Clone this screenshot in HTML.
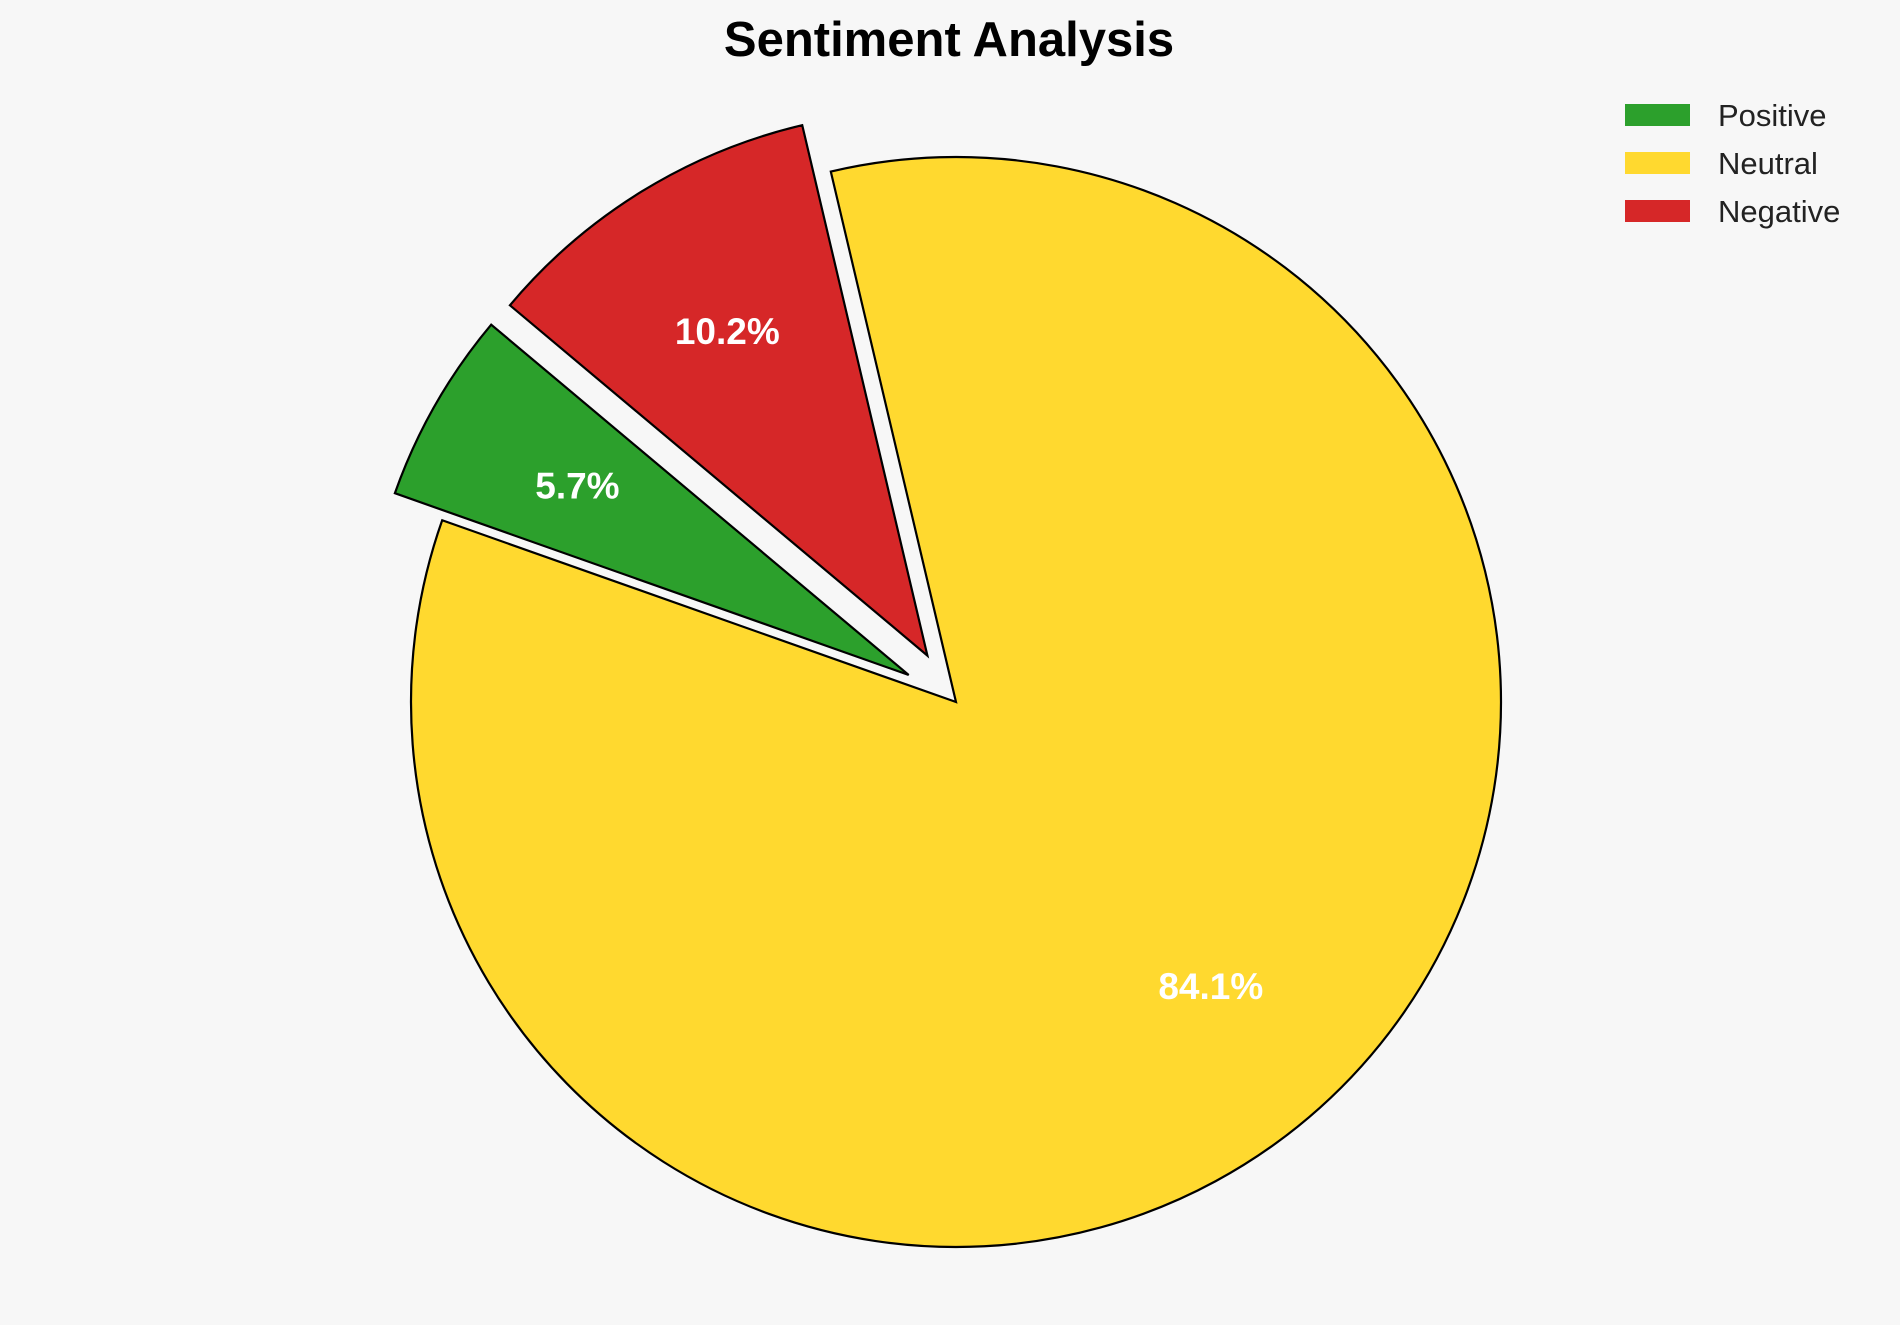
<!DOCTYPE html>
<html><head><meta charset="utf-8">
<style>
html,body{margin:0;padding:0;background:#f7f7f7;}
svg{display:block;font-family:"Liberation Sans",Arial,sans-serif;}
</style></head>
<body>
<svg id="chart" width="1900" height="1325" viewBox="0 0 1900 1325">
<rect width="1900" height="1325" fill="#f7f7f7"/>
<text x="949" y="56" text-anchor="middle" font-size="49" font-weight="bold" fill="#000">Sentiment Analysis</text>
<g id="slices"></g>
<g id="legend"></g>
</svg>
<script>
const categories = ["Positive", "Neutral", "Negative"];
const values = [5.7, 84.1, 10.2];
const explode = [0.1, 0, 0.1];
const colors = ["#2ca02c", "#ffd92f", "#d62728"];
const startAngle = 140;

const cx = 956, cy = 702, R = 545;
const NS = "http://www.w3.org/2000/svg";
const gS = document.getElementById('slices');
const gL = document.getElementById('legend');
const total = values.reduce((a,b)=>a+b,0);
let a0 = startAngle;
function pt(x,y,ang,r){const t=ang*Math.PI/180;return [x+r*Math.cos(t), y-r*Math.sin(t)];}
values.forEach((v,i)=>{
  const sweep = v/total*360;
  const a1 = a0 + sweep;
  const mid = (a0+a1)/2;
  const [ox,oy] = pt(cx,cy,mid,explode[i]*R);
  const [x0,y0] = pt(ox,oy,a0,R);
  const [x1,y1] = pt(ox,oy,a1,R);
  const large = sweep>180?1:0;
  const p = document.createElementNS(NS,'path');
  p.setAttribute('d',`M${ox},${oy} L${x0},${y0} A${R},${R} 0 ${large} 0 ${x1},${y1} Z`);
  p.setAttribute('fill',colors[i]);
  p.setAttribute('stroke','#000');
  p.setAttribute('stroke-width','2.2');
  p.setAttribute('stroke-linejoin','miter');
  
  
  gS.appendChild(p);
  const [lx,ly] = pt(ox,oy,mid,0.7*R);
  const t = document.createElementNS(NS,'text');
  t.setAttribute('x',lx); t.setAttribute('y',ly+13);
  t.setAttribute('text-anchor','middle');
  t.setAttribute('font-size','37'); t.setAttribute('font-weight','bold');
  t.setAttribute('fill','#fff');
  t.textContent = v.toFixed(1)+'%';
  
  
  gS.appendChild(t);
  a0 = a1;
});
categories.forEach((c,i)=>{
  const y = 115 + i*48;
  const r = document.createElementNS(NS,'rect');
  r.setAttribute('x',1625); r.setAttribute('y',y-11);
  r.setAttribute('width',65); r.setAttribute('height',22);
  r.setAttribute('fill',colors[i]);
  
  
  gL.appendChild(r);
  const t = document.createElementNS(NS,'text');
  t.setAttribute('x',1718); t.setAttribute('y',y+11);
  t.setAttribute('font-size','31'); t.setAttribute('fill','#222');
  t.textContent = c;
  
  
  gL.appendChild(t);
});
</script>
</body></html>
